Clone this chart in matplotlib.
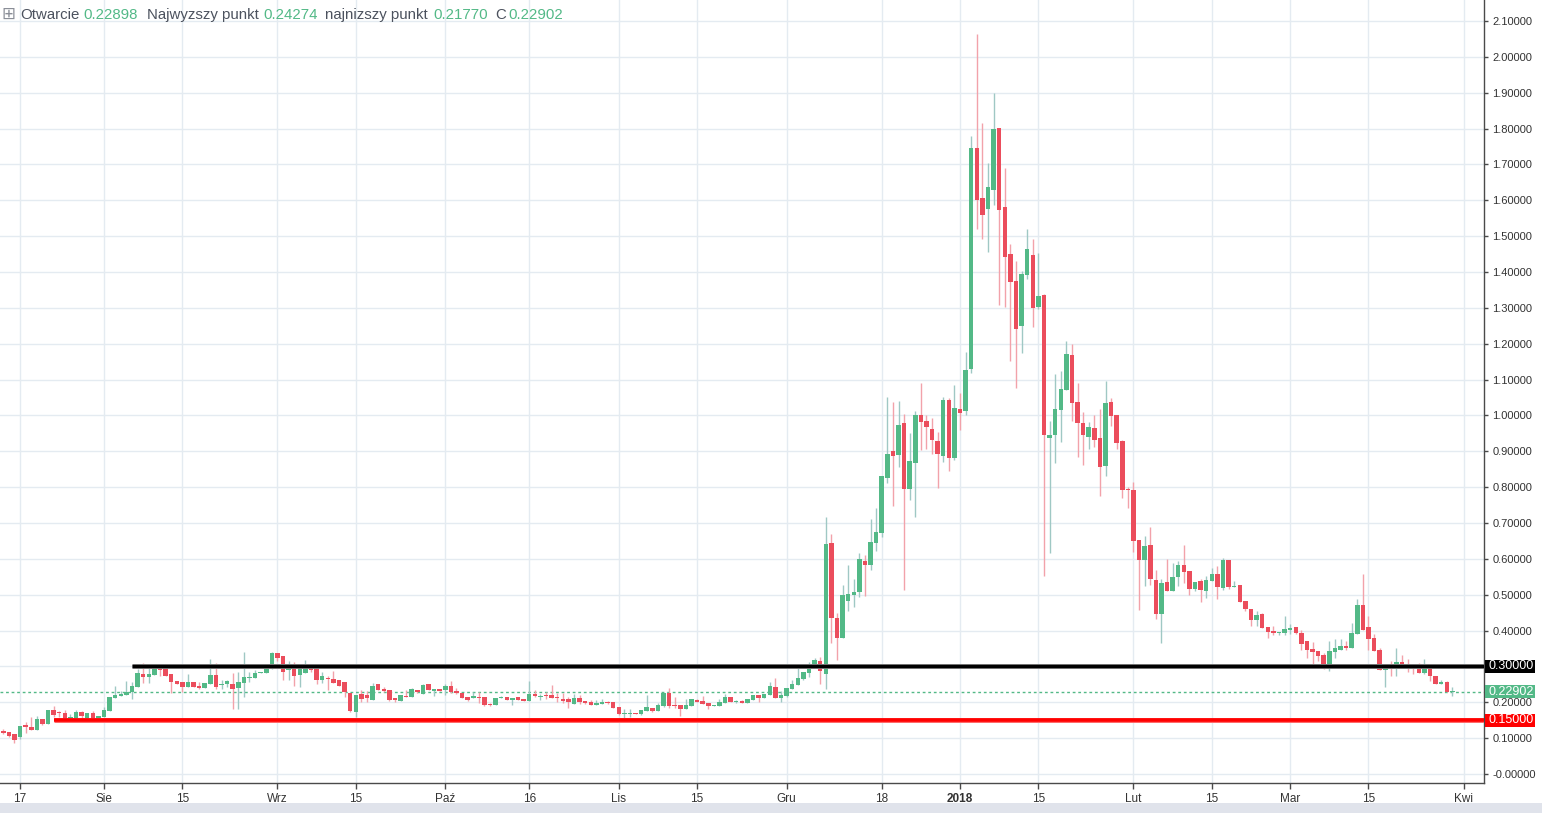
import numpy as np
import matplotlib
matplotlib.use("Agg")
import matplotlib.pyplot as plt
import matplotlib.dates as mdates
from matplotlib.patches import Rectangle
from matplotlib.transforms import blended_transform_factory

# ---------------- data ----------------
start_date = "2017-07-14"

opens = [.121, .117, .112, .103, .138, .131, .123, .153, .140, .178,
         .171, .170, .155, .156, .173, .156, .170, .156, .159, .177,
         .213, .218, .221, .228, .243, .279, .271, .277, .293, .293,
         .279, .259, .257, .244, .257, .245, .241, .252, .276, .248,
         .251, .251, .241, .255, .269, .269, .281, .281, .293, .337,
         .329, .290, .298, .277, .282, .301, .293, .263, .269, .266,
         .262, .257, .227, .174, .223, .219, .207, .252, .237, .234,
         .212, .204, .218, .216, .234, .224, .251, .232, .237, .234,
         .245, .231, .226, .215, .213, .215, .215, .196, .192, .211,
         .215, .205, .215, .209, .203, .223, .215, .221, .220, .216,
         .209, .209, .196, .212, .204, .202, .193, .196, .202, .202,
         .188, .166, .166, .171, .168, .177, .185, .177, .191, .227,
         .192, .193, .182, .190, .207, .204, .199, .191, .190, .199,
         .216, .202, .204, .199, .207, .220, .213, .221, .243, .213,
         .218, .237, .248, .266, .283, .297, .315, .280, .644, .435,
         .380, .483, .499, .508, .594, .584, .645, .673, .826, .901,
         .890, .979, .796, .866, 1.002, .985, .963, .930, .886, 1.044,
         .882, 1.018, 1.012, 1.128, 1.747, 1.605, 1.576, 1.629, 1.802, 1.580,
         1.450, 1.375, 1.249, 1.392, 1.447, 1.303, 1.336, .938, .946, 1.016,
         1.072, 1.168, 1.037, .979, .941, .965, .937, .860, 1.037, 1.001,
         .929, .796, .792, .653, .598, .639, .541, .447, .535, .511,
         .548, .583, .566, .517, .538, .511, .539, .558, .520, .597,
         .522, .527, .482, .460, .430, .446, .410, .399, .394, .394,
         .402, .410, .393, .371, .349, .343, .332, .298, .340, .347,
         .357, .352, .391, .471, .410, .379, .346, .291, .298, .296,
         .312, .307, .304, .296, .283, .296, .273, .252, .257, .22898]

highs = [.125, .117, .112, .134, .145, .158, .162, .153, .178, .190,
         .175, .178, .168, .178, .177, .170, .177, .162, .187, .215,
         .245, .232, .259, .257, .294, .310, .301, .305, .301, .305,
         .279, .259, .257, .279, .257, .257, .254, .321, .310, .262,
         .262, .282, .284, .340, .284, .290, .284, .301, .340, .337,
         .329, .314, .311, .298, .318, .307, .307, .285, .273, .288,
         .262, .257, .227, .220, .235, .232, .254, .252, .242, .234,
         .212, .220, .234, .241, .234, .251, .251, .237, .237, .251,
         .259, .240, .226, .215, .229, .229, .215, .197, .212, .218,
         .215, .212, .215, .209, .259, .234, .223, .230, .248, .226,
         .226, .215, .223, .220, .204, .207, .206, .209, .204, .202,
         .188, .182, .182, .171, .179, .220, .185, .199, .227, .240,
         .216, .193, .210, .209, .210, .218, .199, .193, .210, .223,
         .216, .207, .207, .209, .220, .220, .223, .257, .268, .231,
         .240, .262, .296, .284, .312, .323, .327, .718, .669, .448,
         .527, .583, .545, .616, .611, .711, .743, .831, 1.052, 1.037,
         1.040, 1.004, .952, 1.011, 1.090, 1.002, .994, .953, 1.052, 1.049,
         1.086, 1.062, 1.177, 1.779, 2.064, 1.815, 1.703, 1.900, 1.802, 1.691,
         1.478, 1.431, 1.403, 1.520, 1.492, 1.453, 1.339, .983, 1.115, 1.124,
         1.207, 1.199, 1.090, 1.010, .982, 1.001, 1.018, 1.096, 1.049, 1.001,
         .931, .801, .815, .653, .664, .689, .569, .544, .600, .588,
         .594, .639, .566, .535, .544, .552, .574, .580, .602, .597,
         .538, .527, .482, .460, .454, .449, .410, .413, .396, .441,
         .418, .410, .402, .371, .368, .343, .337, .371, .376, .376,
         .371, .421, .488, .558, .441, .390, .351, .308, .315, .351,
         .332, .321, .307, .310, .321, .298, .273, .263, .259, .24274]

lows = [.111, .104, .087, .098, .115, .123, .123, .138, .140, .160,
        .160, .145, .145, .152, .156, .156, .154, .156, .159, .177,
        .213, .218, .221, .210, .243, .255, .255, .277, .274, .272,
        .225, .251, .229, .244, .244, .236, .241, .252, .236, .236,
        .244, .181, .181, .216, .257, .269, .281, .281, .293, .314,
        .263, .263, .246, .244, .282, .285, .252, .255, .235, .255,
        .246, .216, .174, .159, .202, .200, .207, .235, .230, .204,
        .202, .204, .216, .216, .227, .224, .234, .218, .232, .220,
        .227, .224, .211, .204, .213, .197, .191, .190, .192, .211,
        .205, .193, .207, .204, .203, .216, .205, .210, .213, .200,
        .197, .185, .196, .196, .196, .193, .193, .196, .196, .185,
        .164, .152, .158, .168, .165, .177, .174, .177, .188, .185,
        .185, .163, .182, .190, .202, .196, .182, .191, .190, .199,
        .201, .199, .199, .199, .207, .202, .213, .221, .213, .202,
        .215, .237, .248, .262, .271, .297, .251, .238, .366, .319,
        .380, .455, .467, .493, .497, .569, .622, .662, .812, .748,
        .857, .514, .764, .717, .903, .905, .892, .797, .871, .845,
        .877, .958, 1.001, 1.119, 1.520, 1.493, 1.456, 1.587, 1.309, 1.302,
        1.153, 1.077, 1.175, 1.381, 1.247, 1.298, .553, .615, .866, .927,
        1.072, .983, .885, .863, .905, .913, .776, .832, .971, .907,
        .771, .743, .620, .458, .524, .528, .433, .366, .511, .511,
        .525, .534, .500, .511, .481, .492, .539, .489, .514, .517,
        .522, .481, .455, .414, .414, .408, .380, .389, .389, .389,
        .391, .391, .347, .324, .305, .316, .293, .287, .324, .347,
        .346, .352, .391, .401, .346, .343, .291, .244, .272, .274,
        .298, .285, .280, .283, .280, .260, .252, .252, .229, .21770]

closes = [.115, .107, .095, .134, .132, .123, .153, .140, .178, .165,
          .169, .156, .158, .173, .162, .170, .156, .162, .178, .215,
          .220, .223, .229, .245, .282, .271, .279, .293, .290, .272,
          .257, .251, .244, .257, .244, .241, .254, .276, .244, .252,
          .259, .237, .257, .270, .271, .282, .284, .296, .337, .324,
          .285, .301, .274, .293, .301, .290, .263, .273, .266, .255,
          .246, .230, .176, .220, .210, .213, .245, .235, .232, .207,
          .207, .220, .216, .237, .230, .248, .234, .237, .232, .245,
          .230, .227, .213, .206, .218, .213, .192, .192, .212, .215,
          .205, .212, .207, .204, .223, .218, .216, .218, .213, .213,
          .203, .202, .212, .202, .199, .193, .199, .202, .199, .185,
          .166, .168, .171, .168, .179, .188, .177, .193, .227, .191,
          .190, .182, .193, .209, .202, .196, .191, .193, .202, .216,
          .201, .204, .199, .209, .220, .212, .223, .245, .213, .220,
          .240, .251, .268, .284, .297, .318, .288, .641, .436, .380,
          .498, .502, .508, .599, .584, .647, .674, .831, .892, .888,
          .973, .796, .873, 1.002, .981, .967, .931, .891, 1.044, .881,
          1.021, 1.007, 1.127, 1.747, 1.601, 1.558, 1.636, 1.800, 1.572, 1.443,
          1.373, 1.242, 1.394, 1.464, 1.300, 1.333, .944, .944, 1.018, 1.074,
          1.171, 1.035, .980, .944, .968, .932, .857, 1.035, .999, .924,
          .793, .791, .651, .598, .636, .545, .447, .533, .511, .549,
          .583, .564, .517, .535, .514, .541, .558, .521, .597, .522,
          .524, .481, .461, .430, .443, .408, .397, .394, .396, .403,
          .407, .394, .363, .347, .340, .329, .298, .343, .350, .357,
          .352, .393, .471, .402, .377, .343, .291, .298, .296, .312,
          .301, .302, .294, .283, .296, .272, .252, .257, .229, .22902]

levels = [0.30, 0.15]
level_colors = ["#000000", "#ff0000"]
level_starts = ["2017-08-06", "2017-07-23"]
level_labels = ["0.30000", "0.15000"]

last_price = 0.22902
last_label = "0.22902"

y_ticks = [i / 10 for i in range(0, 22)]
# the 0.30000 tick label is covered by the level label box (drawn instead)
y_tick_labels = ["-0.00000"] + [("" if i == 3 else "%.5f" % (i / 10)) for i in range(1, 22)]

x_tick_dates = ["2017-07-17", "2017-08-01", "2017-08-15", "2017-09-01", "2017-09-15",
                "2017-10-01", "2017-10-16", "2017-11-01", "2017-11-15", "2017-12-01",
                "2017-12-18", "2018-01-01", "2018-01-15", "2018-02-01", "2018-02-15",
                "2018-03-01", "2018-03-15", "2018-04-01"]
x_tick_labels = ["17", "Sie", "15", "Wrz", "15", "Paź", "16", "Lis", "15", "Gru",
                 "18", "2018", "15", "Lut", "15", "Mar", "15", "Kwi"]

header = [("Otwarcie", "0.22898"), ("Najwyzszy punkt", "0.24274"),
          ("najnizszy punkt", "0.21770"), ("C", "0.22902")]

# ---------------- styling ----------------
GREEN = "#53b987"
RED = "#eb4d5c"
GREEN_WICK = "#9fc8c4"
RED_WICK = "#f2a2aa"
GRID = "#e4ebf1"
AXC = "#4a4a4a"
TXT = "#4c525e"

plt.rcParams["font.family"] = ["Liberation Sans", "DejaVu Sans"]

W, H = 1542, 813
fig = plt.figure(figsize=(W / 100, H / 100), dpi=100)
fig.patch.set_facecolor("white")

ax_right_px = 1484
ax_bottom_px = 783
ax = fig.add_axes([0, 1 - ax_bottom_px / H, ax_right_px / W, ax_bottom_px / H])

d0 = np.datetime64(start_date)
dates = d0 + np.arange(len(opens)).astype("timedelta64[D]")
x = mdates.date2num(dates)

o = np.array(opens); h = np.array(highs); l = np.array(lows); c = np.array(closes)
up = c >= o
body_bottom = np.minimum(o, c)
body_height = np.maximum(np.abs(c - o), 0.0028)

ax.vlines(x[up], l[up], h[up], colors=GREEN_WICK, lw=1.0, zorder=2)
ax.vlines(x[~up], l[~up], h[~up], colors=RED_WICK, lw=1.0, zorder=2)
ax.bar(x[up], body_height[up], bottom=body_bottom[up], width=0.8, color=GREEN, lw=0, zorder=3)
ax.bar(x[~up], body_height[~up], bottom=body_bottom[~up], width=0.8, color=RED, lw=0, zorder=3)

# limits
px_per_day = 5.595
x_left = x[0] - 3.3 / px_per_day
x_right = x[0] + (ax_right_px - 3.3) / px_per_day
ax.set_xlim(x_left, x_right)
ax.set_ylim((774 - ax_bottom_px) / 358.6, 774 / 358.6)

# level lines
for lv, col, st in zip(levels, level_colors, level_starts):
    xs = mdates.date2num(np.datetime64(st))
    if col == "#000000":
        ax.hlines(lv, xs, x_right, colors="#8a8a8a", lw=3.6, zorder=4)
        ax.hlines(lv, xs, x_right, colors=col, lw=2.4, zorder=4)
    else:
        ax.hlines(lv, xs, x_right, colors="#ff6b6b", lw=3.6, zorder=4)
        ax.hlines(lv, xs, x_right, colors=col, lw=2.6, zorder=4)

ax.axhline(last_price, color=GREEN, lw=1.0, ls=(0, (2, 2)), zorder=1.5)

# grid / ticks
ax.set_yticks(y_ticks)
ax.set_yticklabels(y_tick_labels)
ax.yaxis.tick_right()
ax.set_xticks(mdates.date2num(np.array(x_tick_dates, dtype="datetime64[D]")))
ax.set_xticklabels(x_tick_labels)
for lab in ax.get_xticklabels():
    if lab.get_text() == "2018":
        lab.set_fontweight("bold")
ax.grid(True, color=GRID, lw=1.0, zorder=0)
ax.set_axisbelow(True)
ax.tick_params(axis="y", which="both", length=3, width=1, color=AXC, labelsize=8,
               labelcolor="#333333", pad=3, direction="out")
ax.tick_params(axis="x", which="both", length=4, width=1, color=AXC, labelsize=8.5,
               labelcolor="#333333", pad=3, direction="out")
for s in ["top", "left"]:
    ax.spines[s].set_visible(False)
for s in ["right", "bottom"]:
    ax.spines[s].set_color(AXC)
    ax.spines[s].set_linewidth(1.0)

# price label boxes on right axis
tr = blended_transform_factory(ax.transAxes, ax.transData)
box_x0 = 1485 / ax_right_px
box_x1 = 1535 / ax_right_px
half = 6.5 / 358.6
for val, txt, fc in [(levels[0], level_labels[0], "#000000"),
                     (last_price, last_label, GREEN),
                     (levels[1], level_labels[1], "#ff0000")]:
    ax.add_patch(Rectangle((box_x0, val - half), box_x1 - box_x0, 2 * half, transform=tr,
                           facecolor=fc, edgecolor="none", clip_on=False, zorder=10))
    ax.text((box_x0 + box_x1) / 2 + 1 / ax_right_px, val, txt, transform=tr, ha="center",
            va="center", color="white", fontsize=9, zorder=11, clip_on=False)

# header
fig.text(1 / W, 1 - 19 / H, "\u229e", family="DejaVu Sans", fontsize=12, color="#8a8e97",
         va="baseline", ha="left")
label_x = [20, 147, 325, 495]
value_x = [83, 263, 433, 508]
for (lab, val), lx, vx in zip(header, label_x, value_x):
    fig.text(lx / W, 1 - 19 / H, lab, fontsize=10.8, color=TXT, va="baseline", ha="left")
    fig.text(vx / W, 1 - 19 / H, val, fontsize=10.8, color=GREEN, va="baseline", ha="left")

# bottom strip
fig.patches.append(Rectangle((0, 0), 1, 10 / H, transform=fig.transFigure,
                             facecolor="#e0e3eb", edgecolor="none"))

fig.savefig("out.png", dpi=100)
